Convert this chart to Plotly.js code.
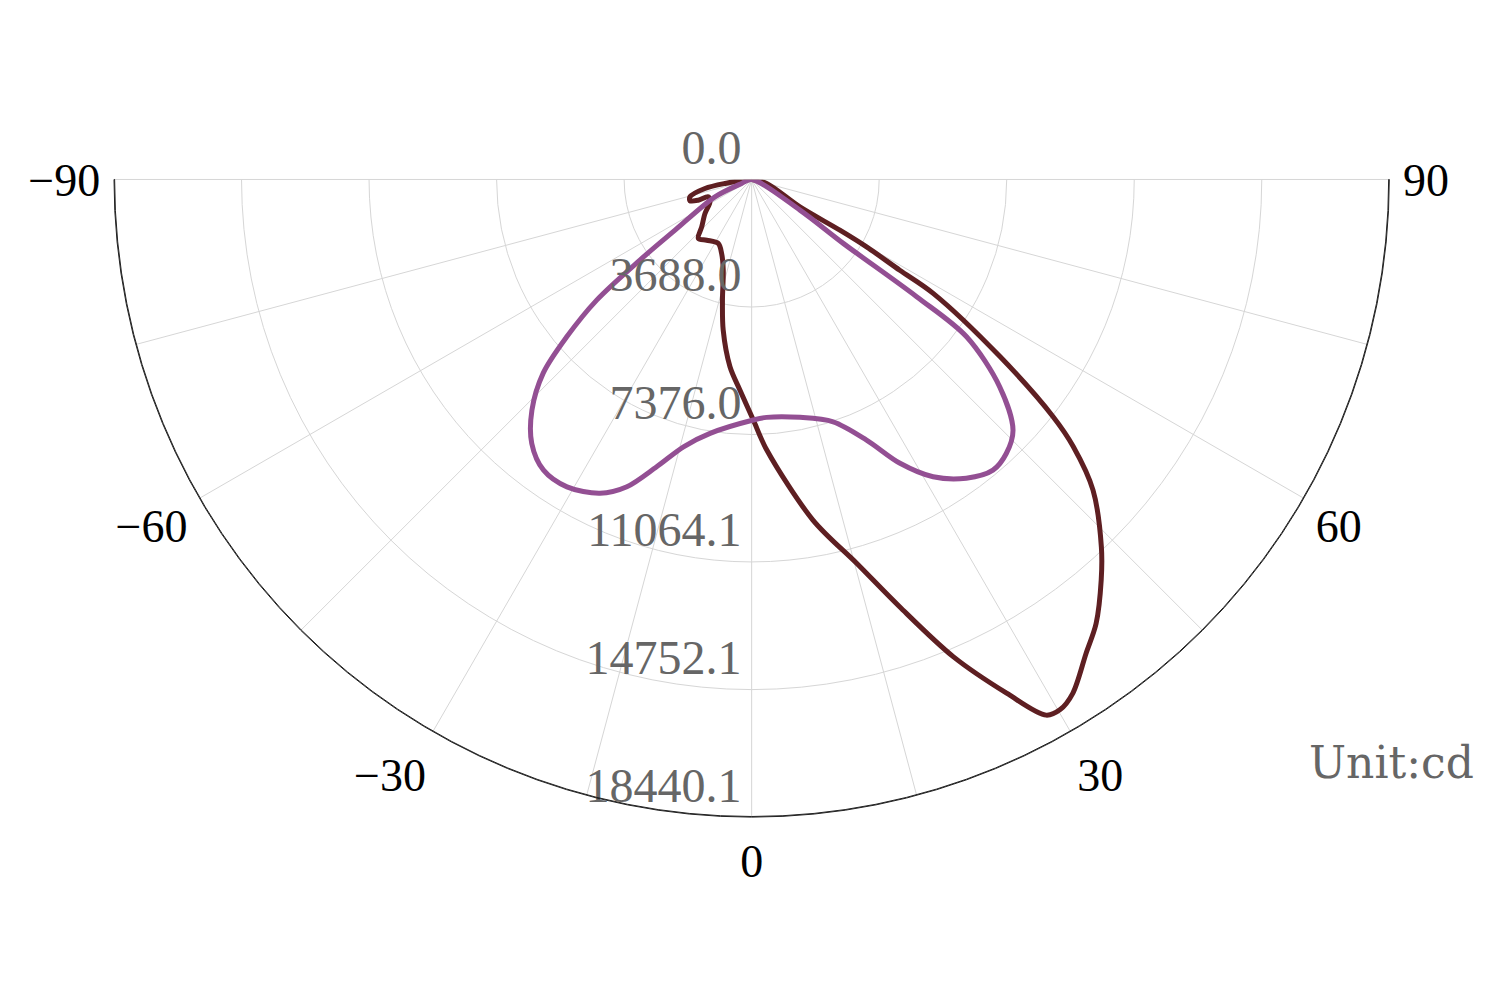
<!DOCTYPE html>
<html>
<head>
<meta charset="utf-8">
<script src="https://cdn.plot.ly/plotly-3.0.1.min.js"></script>
<style>html,body{margin:0;padding:0;background:#fff;}#chart{width:1500px;height:1000px;}</style>
</head>
<body>
<div id="chart"></div>
<script>
// Series 1 (dark red-brown curve): angle in degrees (0 = straight down, positive to the right), intensity in cd
const darkTheta = [-90, -81.5, -79.1, -74.3, -70.9, -68.8, -68.2, -61.8, -53.9, -46.5, -42.1, -36.5, -27.6, -22.1, -17.4, -13.6, -10.7, -6.6, -3.2, 0.4, 3.2, 10.2, 15.3, 19.1, 22.9, 26.4, 28.8, 30.2, 32.0, 35.2, 37.8, 41.1, 43.6, 47.7, 50.3, 51.8, 54.5, 57.9, 58.5, 59.6, 60.1, 60.4, 75.1, 90];
const darkR = [0, 780, 1375, 1853, 1888, 1656, 1352, 1368, 1670, 1991, 2300, 2185, 2087, 2308, 2747, 3590, 4433, 5453, 6099, 6957, 7836, 10007, 11506, 13076, 14978, 16584, 17677, 17738, 17524, 16776, 16252, 15377, 14665, 13347, 12087, 11093, 8821, 6197, 5024, 3853, 2943, 1605, 449, 0];

// Series 2 (purple curve)
const purpleTheta = [-90, -68.2, -64.6, -56.5, -54.2, -52.1, -49.6, -47.1, -43.6, -39.8, -35.6, -31.0, -25.8, -22.1, -18.3, -14.3, -9.3, 0.4, 3.6, 11.5, 18.6, 23.8, 27.6, 31.4, 35.7, 39.7, 42.9, 46.2, 50.1, 53.8, 54.6, 55.1, 57.6, 90];
const purpleR = [0, 311, 1174, 2657, 3983, 5679, 7021, 8229, 9214, 9934, 10339, 10370, 10079, 9590, 8749, 7977, 7440, 6957, 6893, 7020, 7393, 8235, 9261, 10073, 10637, 10925, 10818, 10472, 9350, 7702, 5853, 3230, 1654, 0];

// Axis ticks
const radialTickVals = [0, 3688.02, 7376.04, 11064.06, 14752.08, 18440.1];
const radialTickText = ['0.0', '3688.0', '7376.0', '11064.1', '14752.1', '18440.1'];
const angleTickVals = [-90, -75, -60, -45, -30, -15, 0, 15, 30, 45, 60, 75, 90];
const angleTickText = ['\u221290', '', '\u221260', '', '\u221230', '', '0', '', '30', '', '60', '', '90'];
const radialMax = 18440.1;
const unitLabel = 'Unit:cd';

const polarDomain = {x: [114 / 1500, 1389.3 / 1500], y: [1 - 817.3 / 1000, 1 - 179.3 / 1000]};

const traces = [
  {
    type: 'scatterpolar', mode: 'lines', name: 'C0',
    theta: darkTheta, r: darkR,
    line: {color: '#5e1f22', width: 5, shape: 'spline', smoothing: 0.9},
    hoverinfo: 'skip'
  },
  {
    type: 'scatterpolar', mode: 'lines', name: 'C90',
    theta: purpleTheta, r: purpleR,
    line: {color: '#934f93', width: 5, shape: 'spline', smoothing: 0.9},
    hoverinfo: 'skip'
  },
  // empty trace that only hosts the overlay subplot drawing the dark outer arc
  {
    type: 'scatterpolar', mode: 'lines', subplot: 'polar2',
    theta: [], r: [], hoverinfo: 'skip'
  }
];

const layout = {
  width: 1500, height: 1000,
  margin: {l: 0, r: 0, t: 0, b: 0},
  paper_bgcolor: '#fff',
  showlegend: false,
  polar: {
    domain: polarDomain,
    sector: [-180, 0],
    bgcolor: '#fff',
    angularaxis: {
      rotation: -90,
      direction: 'counterclockwise',
      tickmode: 'array',
      tickvals: angleTickVals,
      ticktext: angleTickText,
      ticks: 'outside',
      ticklen: 4,
      tickcolor: 'rgba(0,0,0,0)',
      showline: false,
      gridcolor: '#d6d6d6',
      gridwidth: 1,
      tickfont: {family: 'Liberation Serif, serif', size: 46, color: '#000'}
    },
    radialaxis: {
      range: [0, radialMax],
      angle: 270,
      side: 'clockwise',
      tickmode: 'array',
      tickvals: radialTickVals,
      ticktext: radialTickText.map(t => t + '<br>&nbsp;'),
      ticks: '',
      showline: false,
      gridcolor: '#d6d6d6',
      gridwidth: 1,
      tickangle: -90,
      tickfont: {family: 'Liberation Serif, serif', size: 48, color: '#666'}
    }
  },
  polar2: {
    domain: polarDomain,
    sector: [-180, 0],
    hole: 0.999,
    bgcolor: 'rgba(0,0,0,0)',
    angularaxis: {
      rotation: -90,
      direction: 'counterclockwise',
      showline: true,
      linecolor: '#222',
      linewidth: 1,
      showgrid: false,
      showticklabels: false,
      ticks: ''
    },
    radialaxis: {
      range: [0, radialMax],
      visible: false,
      showgrid: false
    }
  },
  annotations: [
    {
      text: unitLabel, xref: 'paper', yref: 'paper',
      x: 1476 / 1500, y: 1 - 762 / 1000, xanchor: 'right', yanchor: 'middle',
      showarrow: false,
      font: {family: 'DejaVu Serif, serif', size: 44, color: '#666'}
    }
  ]
};

Plotly.newPlot('chart', traces, layout, {displayModeBar: false, staticPlot: true});
</script>
</body>
</html>
